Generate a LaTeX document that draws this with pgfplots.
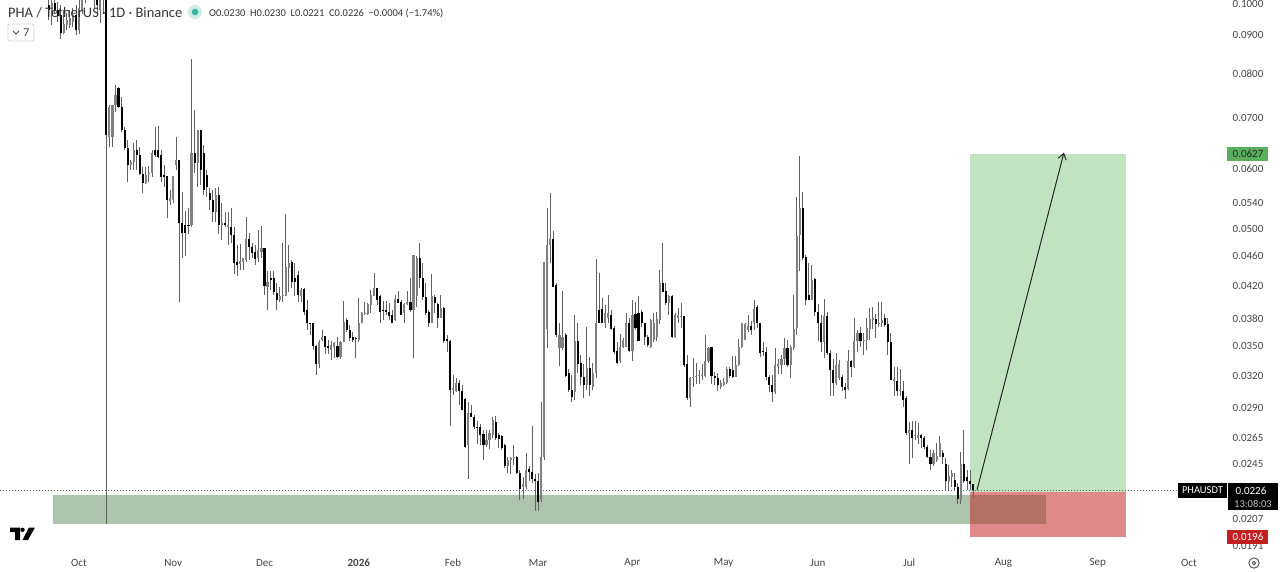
\documentclass[border=0pt]{standalone}
\usepackage{fontspec}
\setmainfont{Carlito}
\usepackage{pgfplots}
\usepackage{pgfplotstable}
\usetikzlibrary{arrows.meta}
\pgfplotsset{compat=1.18}
\definecolor{goal}{HTML}{C1E3C1}
\definecolor{stop}{HTML}{DE8A8A}
\definecolor{zone}{HTML}{ACC4AC}
\definecolor{both}{HTML}{B47163}
\definecolor{txt}{HTML}{444444}
\pgfplotstableread{
d o h l c
-10 .0986 .1016 .0942 .0971
-9 .0956 .1025 .0928 .0992
-8 .0992 .1010 .0959 .0971
-7 .0971 .0995 .0936 .0953
-6 .0956 .0986 .0889 .0905
-5 .0905 .0971 .0902 .0930
-4 .0928 .0962 .0914 .0942
-3 .0928 .0971 .0919 .0948
-2 .0936 .0977 .0922 .0956
-1 .0956 .0986 .0900 .0914
0 .0914 .1010 .0902 .0977
1 .0971 .1025 .0959 .1010
2 .1010 .1064 .0992 .1048
3 .1048 .1097 .1016 .1080
4 .1080 .1114 .1010 .1032
5 .1032 .1064 .0977 .1001
6 .1001 .1025 .0956 .0986
7 .0971 .1019 .0933 .1001
8 .1001 .1048 .0959 .1025
9 .1025 .1064 .0204 .0664
10 .0660 .0728 .0640 .0723
11 .0660 .0728 .0640 .0728
12 .0728 .0773 .0712 .0750
13 .0766 .0768 .0721 .0723
14 .0723 .0746 .0671 .0675
15 .0675 .0681 .0635 .0639
16 .0639 .0654 .0576 .0607
17 .0607 .0616 .0597 .0612
18 .0612 .0648 .0597 .0635
19 .0635 .0654 .0597 .0625
20 .0625 .0641 .0588 .0590
21 .0590 .0602 .0557 .0574
22 .0574 .0602 .0572 .0588
23 .0590 .0604 .0576 .0592
24 .0592 .0635 .0585 .0629
25 .0635 .0681 .0621 .0625
26 .0635 .0683 .0619 .0621
27 .0625 .0635 .0576 .0585
28 .0588 .0607 .0567 .0585
29 .0587 .0587 .0517 .0545
30 .0544 .0562 .0537 .0548
31 .0545 .0587 .0540 .0587
32 .0607 .0660 .0597 .0616
33 .0616 .0616 .0400 .0508
34 .0508 .0558 .0458 .0494
35 .0506 .0527 .0460 .0494
36 .0506 .0532 .0492 .0505
37 .0505 .0837 .0503 .0629
38 .0629 .0717 .0592 .0610
39 .0610 .0675 .0567 .0675
40 .0675 .0675 .0570 .0597
41 .0629 .0644 .0553 .0562
42 .0588 .0597 .0550 .0567
43 .0557 .0565 .0529 .0545
44 .0545 .0562 .0510 .0526
45 .0526 .0565 .0510 .0553
46 .0553 .0567 .0492 .0506
47 .0505 .0540 .0483 .0508
48 .0508 .0526 .0503 .0505
49 .0503 .0526 .0476 .0505
50 .0503 .0532 .0478 .0490
51 .0490 .0503 .0435 .0451
52 .0452 .0476 .0433 .0448
53 .0449 .0477 .0441 .0453
54 .0452 .0458 .0441 .0458
55 .0455 .0518 .0452 .0485
56 .0485 .0494 .0455 .0473
57 .0473 .0479 .0458 .0465
58 .0466 .0476 .0448 .0456
59 .0458 .0498 .0452 .0469
60 .0466 .0504 .0458 .0472
61 .0472 .0472 .0409 .0420
62 .0419 .0439 .0391 .0425
63 .0431 .0439 .0415 .0428
64 .0431 .0439 .0409 .0412
65 .0411 .0424 .0391 .0403
66 .0403 .0419 .0400 .0408
67 .0408 .0479 .0400 .0409
68 .0408 .0523 .0408 .0445
69 .0444 .0476 .0412 .0451
70 .0452 .0455 .0418 .0425
71 .0431 .0451 .0407 .0425
72 .0434 .0439 .0400 .0409
73 .0408 .0418 .0400 .0415
74 .0416 .0418 .0385 .0388
75 .0391 .0403 .0367 .0375
76 .0376 .0376 .0362 .0375
77 .0376 .0376 .0346 .0350
78 .0350 .0351 .0321 .0331
79 .0331 .0357 .0327 .0354
80 .0357 .0368 .0355 .0360
81 .0361 .0361 .0342 .0349
82 .0350 .0357 .0342 .0348
83 .0346 .0355 .0336 .0351
84 .0349 .0354 .0338 .0353
85 .0350 .0360 .0338 .0339
86 .0339 .0355 .0337 .0354
87 .0354 .0401 .0354 .0377
88 .0379 .0381 .0365 .0368
89 .0368 .0373 .0355 .0359
90 .0360 .0365 .0354 .0357
91 .0359 .0360 .0338 .0358
92 .0357 .0405 .0354 .0376
93 .0376 .0388 .0375 .0387
94 .0386 .0400 .0385 .0387
95 .0386 .0399 .0385 .0398
96 .0397 .0415 .0387 .0409
97 .0408 .0437 .0407 .0417
98 .0417 .0417 .0397 .0403
99 .0407 .0409 .0375 .0388
100 .0391 .0401 .0379 .0390
101 .0390 .0401 .0385 .0388
102 .0388 .0399 .0379 .0383
103 .0385 .0391 .0376 .0376
104 .0379 .0409 .0378 .0404
105 .0404 .0414 .0399 .0399
106 .0400 .0403 .0385 .0385
107 .0387 .0399 .0375 .0398
108 .0398 .0414 .0397 .0400
109 .0400 .0431 .0388 .0391
110 .0390 .0461 .0338 .0461
111 .0407 .0460 .0394 .0458
112 .0458 .0479 .0418 .0431
113 .0431 .0451 .0403 .0406
114 .0406 .0424 .0385 .0387
115 .0388 .0391 .0371 .0376
116 .0376 .0436 .0376 .0407
117 .0406 .0409 .0387 .0399
118 .0398 .0399 .0370 .0381
119 .0381 .0409 .0381 .0393
120 .0393 .0394 .0353 .0355
121 .0358 .0362 .0344 .0355
122 .0355 .0357 .0275 .0306
123 .0306 .0321 .0302 .0308
124 .0305 .0318 .0304 .0313
125 .0313 .0316 .0293 .0305
126 .0305 .0311 .0288 .0288
127 .0298 .0299 .0257 .0258
128 .0259 .0295 .0234 .0286
129 .0286 .0293 .0282 .0282
130 .0282 .0284 .0272 .0274
131 .0274 .0279 .0260 .0273
132 .0274 .0276 .0259 .0267
133 .0268 .0271 .0248 .0259
134 .0259 .0271 .0258 .0263
135 .0263 .0271 .0256 .0269
136 .0267 .0282 .0265 .0280
137 .0278 .0283 .0263 .0265
138 .0267 .0269 .0257 .0264
139 .0266 .0267 .0255 .0257
140 .0259 .0260 .0242 .0243
141 .0243 .0250 .0238 .0248
142 .0248 .0250 .0237 .0249
143 .0249 .0259 .0244 .0250
144 .0250 .0251 .0237 .0238
145 .0238 .0240 .0219 .0227
146 .0228 .0235 .0220 .0230
147 .0228 .0253 .0227 .0240
148 .0241 .0243 .0232 .0239
149 .0239 .0275 .0231 .0234
150 .0234 .0237 .0212 .0232
151 .0232 .0238 .0212 .0218
152 .0219 .0295 .0218 .0250
153 .0250 .0452 .0248 .0452
154 .0369 .0532 .0348 .0475
155 .0475 .0557 .0451 .0485
156 .0485 .0497 .0419 .0419
157 .0421 .0424 .0360 .0362
158 .0348 .0375 .0329 .0362
159 .0348 .0414 .0346 .0360
160 .0362 .0364 .0319 .0320
161 .0323 .0326 .0304 .0306
162 .0306 .0321 .0295 .0300
163 .0304 .0385 .0297 .0355
164 .0355 .0376 .0323 .0331
165 .0333 .0341 .0311 .0319
166 .0319 .0331 .0299 .0311
167 .0311 .0371 .0306 .0327
168 .0327 .0339 .0301 .0311
169 .0309 .0333 .0306 .0323
170 .0323 .0456 .0318 .0376
171 .0391 .0437 .0375 .0376
172 .0392 .0405 .0375 .0375
173 .0375 .0396 .0370 .0387
174 .0381 .0409 .0376 .0387
175 .0385 .0390 .0368 .0369
176 .0370 .0372 .0342 .0344
177 .0345 .0354 .0331 .0333
178 .0334 .0363 .0333 .0349
179 .0349 .0359 .0348 .0357
180 .0349 .0387 .0349 .0375
181 .0375 .0381 .0344 .0345
182 .0345 .0403 .0334 .0385
183 .0386 .0400 .0368 .0370
184 .0387 .0407 .0355 .0355
185 .0388 .0391 .0371 .0375
186 .0375 .0376 .0351 .0360
187 .0360 .0362 .0349 .0351
188 .0349 .0380 .0348 .0379
189 .0357 .0387 .0354 .0376
190 .0360 .0388 .0355 .0380
191 .0379 .0441 .0374 .0424
192 .0424 .0479 .0412 .0412
193 .0414 .0424 .0397 .0399
194 .0399 .0409 .0385 .0407
195 .0407 .0409 .0359 .0360
196 .0360 .0387 .0359 .0385
197 .0381 .0393 .0376 .0385
198 .0383 .0399 .0370 .0384
199 .0383 .0384 .0328 .0330
200 .0331 .0341 .0297 .0299
201 .0299 .0319 .0291 .0318
202 .0318 .0338 .0309 .0319
203 .0319 .0332 .0312 .0320
204 .0320 .0325 .0312 .0321
205 .0320 .0331 .0316 .0321
206 .0320 .0362 .0319 .0334
207 .0334 .0349 .0333 .0348
208 .0349 .0349 .0312 .0320
209 .0320 .0324 .0311 .0318
210 .0318 .0323 .0305 .0311
211 .0309 .0316 .0307 .0313
212 .0311 .0318 .0310 .0314
213 .0313 .0328 .0312 .0326
214 .0326 .0328 .0318 .0320
215 .0325 .0340 .0318 .0319
216 .0319 .0340 .0319 .0330
217 .0330 .0358 .0329 .0349
218 .0349 .0376 .0348 .0375
219 .0357 .0376 .0356 .0374
220 .0368 .0385 .0365 .0372
221 .0372 .0378 .0362 .0367
222 .0376 .0403 .0368 .0392
223 .0394 .0397 .0370 .0375
224 .0375 .0376 .0339 .0343
225 .0345 .0354 .0340 .0344
226 .0344 .0349 .0316 .0319
227 .0319 .0321 .0304 .0311
228 .0311 .0321 .0295 .0304
229 .0304 .0348 .0303 .0330
230 .0329 .0337 .0322 .0331
231 .0330 .0341 .0322 .0337
232 .0337 .0359 .0330 .0348
233 .0348 .0357 .0328 .0330
234 .0330 .0351 .0318 .0349
235 .0348 .0409 .0346 .0369
236 .0370 .0550 .0362 .0489
237 .0490 .0623 .0440 .0532
238 .0532 .0558 .0455 .0458
239 .0459 .0462 .0397 .0403
240 .0409 .0451 .0402 .0403
241 .0403 .0448 .0402 .0428
242 .0429 .0430 .0383 .0388
243 .0388 .0398 .0355 .0376
244 .0376 .0385 .0344 .0354
245 .0354 .0404 .0338 .0383
246 .0383 .0388 .0341 .0343
247 .0343 .0346 .0301 .0325
248 .0325 .0337 .0301 .0313
249 .0313 .0343 .0311 .0330
250 .0318 .0336 .0316 .0331
251 .0319 .0321 .0305 .0309
252 .0309 .0313 .0298 .0306
253 .0307 .0346 .0306 .0334
254 .0334 .0336 .0319 .0328
255 .0328 .0381 .0327 .0355
256 .0355 .0367 .0344 .0364
257 .0364 .0371 .0349 .0355
258 .0355 .0364 .0341 .0357
259 .0356 .0381 .0346 .0370
260 .0369 .0393 .0357 .0380
261 .0379 .0394 .0369 .0381
262 .0380 .0386 .0359 .0374
263 .0374 .0400 .0371 .0376
264 .0376 .0400 .0371 .0379
265 .0381 .0386 .0371 .0373
266 .0374 .0381 .0341 .0354
267 .0354 .0364 .0316 .0316
268 .0315 .0328 .0301 .0317
269 .0315 .0328 .0301 .0305
270 .0305 .0326 .0301 .0306
271 .0305 .0315 .0291 .0297
272 .0299 .0301 .0267 .0269
273 .0269 .0278 .0245 .0271
274 .0271 .0279 .0249 .0265
275 .0266 .0279 .0263 .0267
276 .0265 .0277 .0260 .0267
277 .0267 .0268 .0257 .0265
278 .0265 .0266 .0256 .0258
279 .0258 .0259 .0249 .0250
280 .0250 .0255 .0240 .0245
281 .0245 .0255 .0243 .0253
282 .0248 .0261 .0246 .0251
283 .0250 .0266 .0250 .0261
284 .0253 .0255 .0245 .0250
285 .0245 .0249 .0226 .0232
286 .0232 .0244 .0226 .0236
287 .0235 .0240 .0228 .0238
288 .0233 .0238 .0226 .0228
289 .0228 .0231 .0217 .0220
290 .0219 .0254 .0217 .0245
291 .0245 .0271 .0231 .0232
292 .0235 .0240 .0226 .0232
293 .0232 .0240 .0226 .0230
294 .0230 .0230 .0221 .0226
}\candles
\begin{document}
\begin{tikzpicture}[x=1pt,y=1pt]
\path[use as bounding box] (0,0) rectangle (1280,571);
\begin{axis}[
  at={(0,0)}, anchor=south west, scale only axis,
  width=1280pt, height=571pt,
  xmin=-25.98, xmax=394.94,
  ymode=log, ymin=0.01768, ymax=0.10009,
  axis line style={draw=none}, major tick length=0pt, minor tick length=0pt,
  tick style={draw=none},
  xtick={0,31,61,92,123,151,182,212,243,273,304,335,365},
  xticklabels={Oct,Nov,Dec,\textbf{2026},Feb,Mar,Apr,May,Jun,Jul,Aug,Sep,Oct},
  xticklabel style={anchor=center, yshift=8pt, font=\fontsize{11}{13}\selectfont, text=txt},
  ytick={0.09,0.08,0.07,0.06,0.054,0.05,0.046,0.042,0.038,0.035,0.032,0.029,0.0265,0.0245,0.0207,0.0191},
  yticklabels={0.0900,0.0800,0.0700,0.0600,0.0540,0.0500,0.0460,0.0420,0.0380,0.0350,0.0320,0.0290,0.0265,0.0245,0.0207,0.0191},
  yticklabel pos=right,
  yticklabel style={anchor=center, xshift=-32pt, font=\fontsize{11}{13}\selectfont, text=txt},
  minor ytick={},
  clip=true,
  error bars/error mark=none,
]
% long target / stop boxes and demand zone
\addplot[fill=goal, draw=none] coordinates {(293,.0225) (344.3,.0225) (344.3,.0627) (293,.0627)} --cycle;
\addplot[fill=stop, draw=none] coordinates {(293,.0196) (344.3,.0196) (344.3,.0225) (293,.0225)} --cycle;
\addplot[fill=zone, draw=none] coordinates {(-8.65,.02039) (293,.02039) (293,.02227) (-8.65,.02227)} --cycle;
\addplot[fill=both, draw=none] coordinates {(293,.02039) (318,.02039) (318,.02227) (293,.02227)} --cycle;
% last price line
\addplot[line width=0.5pt, color=black!60, dash pattern=on 1pt off 2pt] coordinates {(-26,.0226) (361.4,.0226)};
% wicks
\addplot[draw=none, mark=none, error bars/.cd, y dir=plus, y explicit,
  error bar style={line width=0.9pt, color=black!62}]
  table[x=d, y=l, y error expr=\thisrow{h}-\thisrow{l}] {\candles};
% rising bodies
\addplot[draw=none, mark=none, x filter/.expression={\thisrow{c}>=\thisrow{o}?x:nan},
  error bars/.cd, y dir=plus, y explicit,
  error bar style={line width=2.1pt, color=black!50}]
  table[x=d, y=o, y error expr=\thisrow{c}-\thisrow{o}] {\candles};
% falling bodies
\addplot[draw=none, mark=none, x filter/.expression={\thisrow{c}<\thisrow{o}?x:nan},
  error bars/.cd, y dir=plus, y explicit,
  error bar style={line width=2.1pt, color=black}]
  table[x=d, y=c, y error expr=\thisrow{o}-\thisrow{c}] {\candles};
% arrow
\addplot[-{Straight Barb[length=6pt,width=8pt]}, line width=1pt, color=black!85] coordinates {(295.3,.0226) (323.9,.0630)};
\end{axis}
% the top scale label, only partly on the page in the reference
\node[anchor=center, inner sep=0, text=txt, font=\fontsize{11}{13}\selectfont] at (1248,567) {0.1000};
% header
\node[anchor=west, inner sep=0, text=black!80, font=\fontsize{14.5}{16}\selectfont] at (8,558) {PHA / TetherUS · 1D · Binance};
\fill[color={rgb,255:red,205;green,237;blue,230}] (195,559) circle (7);
\fill[color={rgb,255:red,61;green,184;blue,160}] (195,559) circle (3.3);
\node[anchor=west, inner sep=0, text=black!80, font=\fontsize{10.5}{12}\selectfont] at (209,558) {O0.0230\ \ H0.0230\ \ L0.0221\ \ C0.0226\ \ −0.0004 (−1.74\%)};
\draw[black!18, line width=0.7pt, rounded corners=2pt] (8,530) rectangle (34,547);
\draw[black!70, line width=0.8pt] (13,540) -- (16,537) -- (19,540);
\node[anchor=center, inner sep=0, text=black!75, font=\fontsize{12}{14}\selectfont] at (26.5,538.5) {7};
% logo
\fill[black] (10,43.5) -- (20,43.5) -- (20,31) -- (15,31) -- (15,39) -- (10,39) -- cycle;
\fill[black] (22.5,41.2) circle (2.2);
\fill[black] (29,43.5) -- (35,43.5) -- (28,31) -- (22.5,31) -- cycle;
% price labels
\fill[black] (1178,73) rectangle (1227,88);
\node[text=white, inner sep=0, font=\fontsize{10.5}{12}\selectfont] at (1202.5,80.5) {PHAUSDT};
\fill[black] (1228,61) rectangle (1278,88);
\node[text=white, inner sep=0, font=\fontsize{11}{13}\selectfont] at (1251,80.5) {0.0226};
\node[text=black!25, inner sep=0, font=\fontsize{10.5}{12}\selectfont] at (1253,67.5) {13:08:03};
\fill[color={rgb,255:red,88;green,176;blue,92}] (1227,410) rectangle (1268,424);
\node[text=black!85, inner sep=0, font=\fontsize{11}{13}\selectfont] at (1248,417) {0.0627};
\fill[color={rgb,255:red,194;green,31;blue,31}] (1227,27) rectangle (1268,41);
\node[text=white, inner sep=0, font=\fontsize{11}{13}\selectfont] at (1248,34) {0.0196};
% settings icon
\draw[black!70, line width=0.9pt] (1254,8) circle (5.2);
\draw[black!70, line width=0.9pt] (1254,8) circle (1.8);
\end{tikzpicture}
\end{document}
